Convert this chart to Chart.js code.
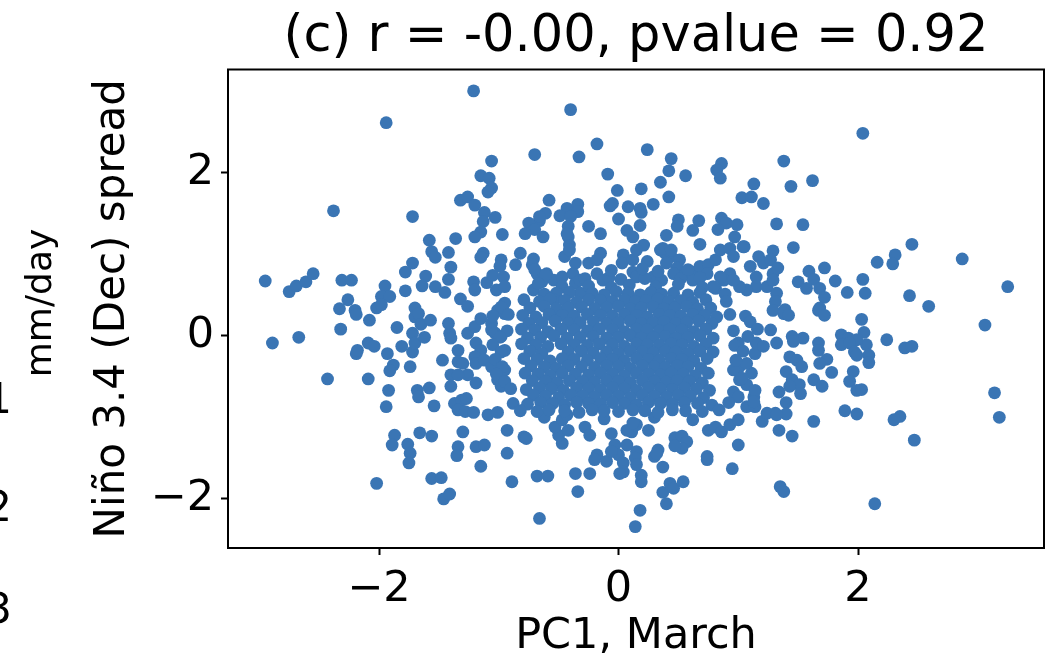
<!DOCTYPE html>
<html><head><meta charset="utf-8">
<script src="https://cdn.jsdelivr.net/npm/chart.js@4.4.1/dist/chart.umd.min.js"></script>
<style>html,body{margin:0;padding:0;background:#fff;overflow:hidden}canvas{display:block}</style>
</head><body>
<canvas id="c" width="1061" height="660"></canvas>
<script>
// ---- text ----
const titleText = '(c) r = -0.00, pvalue = 0.92';
const xLabel = 'PC1, March';
const yLabel = 'Niño 3.4 (Dec) spread';
const neighbourLabel = 'mm/day';
const neighbourTicks = ['1', '2', '3'];
const xTickValues = [-2, 0, 2];
const yTickValues = [-2, 0, 2];
const xRange = [-3.261, 3.553];
const yRange = [-2.602, 3.262];

// ---- data: [PC1 March, Nino3.4 Dec spread] ----
const upperLeft = [[-1.21,3.00],[-1.94,2.61],[-1.06,2.14],[-2.38,1.53],[-1.72,1.46],[-1.15,1.96],[-1.08,1.93],[-1.06,1.81],[-1.09,1.76],[-1.32,1.66],[-1.26,1.70],[-1.20,1.60],[-1.12,1.51],[-1.13,1.40],[-1.03,1.45],[-1.15,1.27],[-1.20,1.21],[-0.97,1.24],[-1.58,1.17],[-1.36,1.19],[-1.56,1.03],[-1.53,0.96],[-1.42,1.02],[-1.13,1.01],[-1.15,0.96],[-0.98,0.93],[-0.99,0.85],[-1.72,0.89],[-1.78,0.78],[-1.40,0.84],[-1.42,0.69],[-1.61,0.73],[-1.64,0.61],[-1.53,0.60],[-1.45,0.53],[-2.95,0.67],[-2.75,0.54],[-2.69,0.61],[-2.61,0.66],[-2.55,0.76],[-2.31,0.68],[-2.23,0.68],[-2.26,0.44],[-1.95,0.61],[-1.98,0.48],[-1.91,0.48],[-2.02,0.34],[-1.78,0.55],[-1.32,0.45],[-1.26,0.36],[-1.21,0.66],[-1.20,0.56],[-1.10,0.65],[-1.05,0.74],[-1.02,0.56],[-0.96,0.72],[-0.95,0.60],[-2.33,0.33],[-2.20,0.31],[-1.70,0.34],[-0.95,0.40]];
const lowerLeft = [[-2.89,-0.09],[-2.67,-0.02],[-2.43,-0.53],[-2.09,-0.53],[-2.32,0.08],[-2.19,0.26],[-2.08,0.19],[-1.98,0.38],[-2.19,-0.22],[-2.18,-0.18],[-2.09,-0.09],[-2.04,-0.13],[-1.93,-0.22],[-1.88,-0.36],[-1.91,-0.43],[-1.85,0.10],[-1.81,-0.13],[-1.74,-0.38],[-1.72,0.03],[-1.72,-0.20],[-1.70,-0.09],[-1.70,0.23],[-1.67,0.27],[-1.65,0.14],[-1.62,-0.02],[-1.57,0.19],[-1.92,-0.67],[-1.94,-0.87],[-1.68,-0.67],[-1.67,-0.75],[-1.58,-0.64],[-1.54,-0.86],[-1.87,-1.22],[-1.89,-1.34],[-1.76,-1.33],[-1.74,-1.44],[-1.75,-1.56],[-1.66,-1.19],[-1.56,-1.23],[-2.02,-1.81],[-1.56,-1.75],[-1.48,-1.74],[-1.46,-2.00],[-1.41,-1.94],[-1.30,-1.18],[-1.34,-1.36],[-1.35,-1.47],[-1.19,-1.36],[-1.12,-1.34],[-1.15,-1.60],[-1.42,0.15],[-1.41,0.03],[-1.40,-0.03],[-1.47,-0.30],[-1.34,-0.18],[-1.34,-0.32],[-1.30,-0.34],[-1.40,-0.48],[-1.40,-0.62],[-1.37,-0.83],[-1.31,-0.79],[-1.27,-0.77],[-1.34,-0.91],[-1.28,-0.93],[-1.21,-0.94],[-1.09,-0.97],[-1.01,-0.94],[-1.26,0.03],[-1.20,0.11],[-1.15,0.21],[-1.06,0.15],[-1.03,0.03],[-1.19,-0.09],[-1.15,-0.18],[-1.20,-0.26],[-1.19,-0.34],[-1.12,-0.30],[-1.19,-0.58],[-1.26,-0.48],[-1.34,-0.48],[-1.06,-0.38],[-1.01,-0.54],[-0.98,-0.62],[-0.95,-0.42],[-0.95,-0.18],[-0.98,-0.01],[-0.95,0.27],[-1.01,0.31],[-0.93,-1.16],[-0.93,-1.44],[-0.89,-1.79]];
const upperMiddle = [[-0.40,2.77],[-0.70,2.22],[-0.33,2.19],[-0.18,2.35],[0.24,2.28],[0.44,2.17],[0.42,2.02],[0.56,1.96],[-0.09,1.98],[-0.01,1.78],[0.19,1.80],[0.35,1.88],[0.42,1.70],[0.29,1.61],[0.86,2.11],[0.82,2.03],[0.85,1.93],[1.13,1.86],[1.03,1.69],[1.11,1.70],[1.21,1.62],[-0.58,1.66],[-0.43,1.56],[-0.34,1.61],[-0.34,1.52],[-0.49,1.47],[-0.40,1.46],[-0.61,1.50],[-0.66,1.41],[-0.75,1.38],[-0.70,1.30],[-0.63,1.21],[-0.78,1.25],[-0.07,1.59],[-0.05,1.62],[0.08,1.58],[0.18,1.56],[0.19,1.51],[0.00,1.43],[-0.25,1.34],[-0.42,1.34],[-0.42,1.21],[-0.41,1.11],[-0.45,0.97],[-0.15,1.25],[0.07,1.29],[0.12,1.21],[0.18,1.35],[0.40,1.23],[0.50,1.42],[0.49,1.34],[0.67,1.41],[0.62,1.29],[0.68,1.12],[0.86,1.44],[0.90,1.38],[0.83,1.30],[0.99,1.36],[0.97,1.21],[1.05,1.09],[1.32,1.37],[1.29,1.04],[-0.82,1.01],[-0.86,0.87],[-0.71,0.94],[-0.72,0.87],[-0.68,0.76],[-0.64,0.66],[-0.71,0.56],[-0.60,0.76],[-0.54,0.68],[-0.47,0.72],[-0.47,0.60],[-0.52,0.52],[-0.54,0.44],[-0.36,0.89],[-0.38,0.76],[-0.36,0.64],[-0.32,0.52],[-0.25,0.89],[-0.15,1.01],[-0.18,0.93],[0.04,0.99],[0.03,0.89],[0.12,0.93],[0.12,0.78],[0.21,1.11],[0.15,1.05],[0.24,0.91],[0.35,1.05],[0.39,1.01],[0.44,0.97],[0.51,0.93],[0.49,0.83],[0.56,0.76],[0.62,0.78],[0.68,0.85],[0.75,0.87],[0.81,0.93],[0.85,1.05],[0.93,1.07],[0.96,0.97],[1.04,1.09],[0.93,0.76],[0.88,0.68],[1.10,0.85],[1.17,0.97],[1.21,0.89],[1.27,0.93],[1.29,0.76],[1.15,0.60],[1.07,0.56],[1.24,0.60],[1.32,0.52],[-0.66,1.46],[-0.43,1.25],[-0.41,1.05],[0.37,1.07],[0.44,1.05],[1.15,0.72],[1.01,0.60],[0.96,0.68],[0.85,0.72],[0.81,0.58],[-0.70,0.81],[-0.61,0.74],[-0.67,0.64],[-0.32,0.68],[-0.18,0.76],[-0.13,0.68],[0.15,0.72],[0.29,0.72],[0.40,0.89],[0.46,0.76],[0.62,0.68],[0.74,0.76],[0.79,0.60]];
const upperRight = [[2.04,2.48],[1.38,2.14],[1.44,1.83],[1.62,1.90],[1.54,1.36],[1.46,1.08],[2.45,1.12],[2.87,0.94],[2.31,0.99],[2.29,0.88],[2.16,0.90],[1.72,0.83],[1.59,0.79],[1.63,0.69],[1.50,0.66],[1.57,0.58],[1.68,0.58],[1.72,0.47],[1.81,0.67],[2.04,0.69],[2.06,0.52],[1.91,0.53],[2.43,0.49],[2.59,0.36],[3.25,0.60],[1.33,0.83],[1.29,0.68],[1.31,0.42],[1.39,0.32],[1.68,0.34]];
const lowerRight = [[3.06,0.13],[3.14,-0.70],[3.18,-1.00],[2.47,-1.28],[2.35,-0.99],[2.30,-1.03],[2.24,-0.05],[2.39,-0.15],[2.45,-0.13],[2.14,-2.06],[1.35,-1.85],[1.38,-1.91],[2.03,0.20],[2.05,0.04],[2.07,-0.11],[2.09,-0.24],[2.09,-0.33],[1.86,0.01],[1.92,-0.03],[1.99,-0.05],[1.86,-0.11],[1.93,-0.09],[1.97,-0.20],[1.99,-0.24],[1.96,-0.44],[1.93,-0.56],[1.99,-0.67],[2.03,-0.66],[1.89,-0.92],[1.99,-0.96],[1.78,-0.45],[1.74,-0.29],[1.67,-0.09],[1.67,-0.18],[1.68,-0.34],[1.63,-0.54],[1.70,-0.62],[1.67,0.31],[1.72,0.25],[1.54,-0.03],[1.45,-0.01],[1.46,-0.07],[1.32,-0.09],[1.43,-0.26],[1.49,-0.30],[1.53,-0.38],[1.40,-0.44],[1.45,-0.54],[1.51,-0.60],[1.52,-0.71],[1.43,-0.62],[1.34,-0.69],[1.40,-0.82],[1.31,-0.95],[1.40,-0.96],[1.63,-1.05],[1.34,-1.16],[1.45,-1.23],[1.27,0.07],[1.29,0.31],[1.38,0.27],[1.42,0.25]];
const lowerMiddle = [[-0.66,-2.24],[0.14,-2.34],[0.18,-2.14],[-0.68,-1.72],[-0.59,-1.72],[-0.34,-1.91],[-0.36,-1.69],[-0.24,-1.69],[-0.79,-1.24],[-0.77,-1.26],[-0.47,-1.32],[-0.50,-1.22],[-0.53,-1.12],[-0.47,-1.03],[-0.43,-0.97],[-0.28,-1.12],[-0.24,-1.22],[-0.18,-1.46],[-0.20,-1.52],[-0.10,-1.54],[-0.06,-1.20],[-0.03,-1.34],[0.00,-1.46],[0.04,-1.56],[0.04,-1.67],[0.07,-1.34],[0.15,-1.42],[0.11,-1.18],[0.15,-1.09],[0.19,-1.71],[0.19,-1.79],[0.25,-1.16],[0.30,-1.48],[0.33,-1.40],[0.37,-1.61],[0.37,-1.92],[0.40,-2.06],[0.43,-1.81],[0.46,-1.87],[0.54,-1.79],[0.47,-1.25],[0.53,-1.23],[0.57,-1.30],[0.53,-1.38],[0.47,-1.35],[0.74,-1.48],[0.74,-1.52],[0.75,-1.16],[0.81,-1.12],[0.86,-1.18],[0.93,-1.09],[1.00,-1.03],[1.00,-1.34],[0.95,-1.63],[1.20,-1.05],[1.24,-0.95],[1.32,-0.97],[1.07,-0.87],[1.14,-0.87],[1.13,-0.75],[1.07,-0.60],[1.14,-0.67],[1.01,-0.54],[1.11,-0.46],[1.14,-0.22],[1.15,-0.09],[1.21,-0.13],[1.01,-0.38],[1.00,-0.09],[-0.42,-1.16],[-0.06,-1.42],[0.01,-1.69],[0.14,-1.50],[0.15,-1.58],[0.07,-1.16],[0.12,-1.07],[0.32,-1.44],[1.07,-0.34],[0.96,-0.42],[1.03,-0.52],[0.96,-0.69],[1.00,-0.75],[1.13,-0.81],[-0.62,-1.00],[-0.12,-1.02],[0.30,-1.00],[0.62,-1.03]];
const coreUpper = [[-0.28,0.70],[-0.08,0.71],[0.02,0.69],[0.22,0.70],[0.36,0.68],[0.52,0.70],[0.68,0.71],[-0.06,0.80],[0.20,0.82],[0.33,0.79],[0.58,0.81],
[-0.25,0.61],[-0.06,0.59],[0.09,0.62],[0.31,0.60],[0.50,0.63],[0.70,0.59],
[-0.62,0.51],[-0.41,0.53],[-0.22,0.52],[-0.12,0.50],[-0.02,0.54],[0.08,0.52],[0.18,0.50],[0.27,0.53],[0.36,0.51],[0.46,0.52],[0.58,0.50],[0.68,0.53],[0.89,0.51],
[-0.79,0.44],[-0.66,0.42],[-0.57,0.45],[-0.45,0.43],[-0.35,0.41],[-0.25,0.44],[-0.15,0.43],[-0.05,0.42],[0.05,0.44],[0.14,0.42],[0.23,0.43],[0.33,0.45],[0.42,0.42],[0.52,0.43],[0.62,0.41],[0.73,0.44],[0.90,0.42],
[-0.98,0.35],[-0.74,0.34],[-0.62,0.36],[-0.52,0.33],[-0.42,0.34],[-0.31,0.35],[-0.20,0.33],[-0.10,0.34],[0.00,0.36],[0.10,0.33],[0.19,0.34],[0.29,0.35],[0.38,0.33],[0.47,0.34],[0.57,0.36],[0.66,0.33],[0.77,0.34],
[-1.05,0.24],[-0.92,0.26],[-0.80,0.25],[-0.69,0.23],[-0.58,0.26],[-0.47,0.25],[-0.37,0.24],[-0.26,0.26],[-0.15,0.25],[-0.05,0.24],[0.05,0.26],[0.15,0.25],[0.24,0.23],[0.34,0.26],[0.43,0.25],[0.52,0.24],[0.62,0.26],[0.72,0.25],[0.82,0.23],[0.93,0.26],[1.06,0.24],
[-0.75,0.15],[-0.64,0.16],[-0.53,0.18],[-0.42,0.15],[-0.32,0.16],[-0.21,0.17],[-0.10,0.15],[0.00,0.16],[0.10,0.18],[0.19,0.15],[0.29,0.16],[0.38,0.17],[0.48,0.15],[0.57,0.16],[0.67,0.18],[0.78,0.15],[1.10,0.17],
[-1.06,0.07],[-0.93,0.06],[-0.81,0.08],[-0.70,0.07],[-0.59,0.05],[-0.48,0.08],[-0.37,0.07],[-0.26,0.06],[-0.16,0.08],[-0.05,0.07],[0.05,0.05],[0.15,0.08],[0.24,0.07],[0.34,0.06],[0.43,0.08],[0.53,0.07],[0.63,0.05],[0.73,0.08],[0.96,0.06],[1.16,0.08]];
const coreLower = [[-0.99,-0.02],[-0.76,-0.03],[-0.65,-0.02],[-0.54,0.00],[-0.43,-0.03],[-0.32,-0.02],[-0.21,-0.01],[-0.10,-0.03],[0.00,-0.02],[0.10,0.00],[0.19,-0.03],[0.29,-0.02],[0.39,-0.01],[0.48,-0.03],[0.58,-0.02],[0.68,0.00],[0.79,-0.03],[1.08,-0.01],
[-1.05,-0.11],[-0.81,-0.10],[-0.69,-0.11],[-0.59,-0.13],[-0.48,-0.10],[-0.37,-0.11],[-0.26,-0.12],[-0.16,-0.10],[-0.05,-0.11],[0.05,-0.13],[0.15,-0.10],[0.24,-0.11],[0.34,-0.12],[0.44,-0.10],[0.53,-0.11],[0.63,-0.13],[0.73,-0.10],[0.97,-0.12],
[-0.98,-0.20],[-0.74,-0.19],[-0.64,-0.22],[-0.42,-0.20],[-0.31,-0.19],[-0.21,-0.21],[-0.10,-0.20],[0.00,-0.22],[0.10,-0.19],[0.20,-0.20],[0.29,-0.21],[0.39,-0.19],[0.48,-0.20],[0.58,-0.22],[0.68,-0.19],[0.79,-0.20],[1.04,-0.19],
[-1.03,-0.29],[-0.79,-0.28],[-0.68,-0.29],[-0.57,-0.31],[-0.47,-0.28],[-0.37,-0.29],[-0.26,-0.30],[-0.15,-0.28],[-0.05,-0.29],[0.05,-0.31],[0.15,-0.28],[0.25,-0.29],[0.34,-0.30],[0.44,-0.28],[0.53,-0.29],[0.63,-0.31],[0.74,-0.28],[0.98,-0.30],
[-0.97,-0.38],[-0.73,-0.37],[-0.62,-0.38],[-0.52,-0.40],[-0.42,-0.37],[-0.31,-0.38],[-0.20,-0.39],[-0.10,-0.37],[0.00,-0.38],[0.10,-0.40],[0.20,-0.37],[0.30,-0.38],[0.39,-0.39],[0.49,-0.37],[0.58,-0.38],[0.69,-0.40],
[-1.02,-0.47],[-0.78,-0.46],[-0.67,-0.47],[-0.57,-0.49],[-0.47,-0.46],[-0.36,-0.47],[-0.25,-0.48],[-0.15,-0.46],[-0.05,-0.47],[0.05,-0.49],[0.15,-0.46],[0.25,-0.47],[0.35,-0.48],[0.44,-0.46],[0.54,-0.47],[0.64,-0.49],[0.75,-0.46],
[-0.95,-0.56],[-0.72,-0.55],[-0.61,-0.56],[-0.51,-0.58],[-0.41,-0.55],[-0.30,-0.56],[-0.20,-0.57],[-0.10,-0.55],[0.00,-0.56],[0.10,-0.58],[0.20,-0.55],[0.30,-0.56],[0.40,-0.57],[0.49,-0.55],[0.59,-0.56],[0.70,-0.58],
[-0.90,-0.65],[-0.77,-0.66],[-0.66,-0.64],[-0.56,-0.65],[-0.46,-0.67],[-0.35,-0.64],[-0.25,-0.65],[-0.15,-0.66],[-0.05,-0.64],[0.05,-0.65],[0.15,-0.67],[0.25,-0.64],[0.35,-0.65],[0.45,-0.66],[0.55,-0.64],[0.65,-0.65],[0.76,-0.67],
[-0.71,-0.73],[-0.61,-0.74],[-0.50,-0.76],[-0.40,-0.73],[-0.30,-0.74],[-0.20,-0.75],[-0.10,-0.73],[0.00,-0.74],[0.10,-0.76],[0.20,-0.73],[0.30,-0.74],[0.40,-0.75],[0.50,-0.73],[0.60,-0.74],[0.71,-0.76],
[-0.88,-0.83],[-0.76,-0.84],[-0.65,-0.82],[-0.55,-0.83],[-0.45,-0.85],[-0.35,-0.82],[-0.25,-0.83],[-0.15,-0.84],[-0.05,-0.82],[0.05,-0.83],[0.15,-0.85],[0.25,-0.82],[0.35,-0.83],[0.45,-0.84],[0.55,-0.82],[0.66,-0.83],[0.78,-0.85],[0.92,-0.82],
[-0.82,-0.92],[-0.68,-0.93],[-0.58,-0.91],[-0.45,-0.92],[-0.33,-0.94],[-0.22,-0.91],[-0.12,-0.92],[0.00,-0.93],[0.12,-0.91],[0.22,-0.92],[0.33,-0.94],[0.45,-0.91],[0.56,-0.92],[0.70,-0.93],[0.84,-0.91]];

const allPoints = [].concat(upperLeft, lowerLeft, upperMiddle, upperRight, lowerRight, lowerMiddle, coreUpper, coreLower)
  .map(([x, y]) => ({x, y}));

const FONT = 'DejaVu Sans';
const fmtTick = v => (v < 0 ? '\u2212' + Math.abs(v) : String(v));

const framePlugin = {
  id: 'frameAndExtras',
  afterDraw(chart) {
    const {ctx, chartArea: a} = chart;
    ctx.save();
    ctx.strokeStyle = '#000';
    ctx.lineWidth = 2;
    ctx.strokeRect(a.left, a.top, a.right - a.left, a.bottom - a.top);
    ctx.restore();
    // remnants of the neighbouring panel at the left edge
    ctx.save();
    ctx.fillStyle = '#000';
    ctx.font = '36px "' + FONT + '"';
    ctx.translate(51, 303);
    ctx.rotate(-Math.PI / 2);
    ctx.textAlign = 'center';
    ctx.textBaseline = 'alphabetic';
    ctx.fillText(neighbourLabel, 0, 0);
    ctx.restore();
    ctx.save();
    ctx.fillStyle = '#000';
    ctx.font = '42px "' + FONT + '"';
    ctx.textAlign = 'right';
    ctx.textBaseline = 'middle';
    const ys = [402, 510, 612];
    neighbourTicks.forEach((t, i) => ctx.fillText(t, 12, ys[i]));
    ctx.restore();
  }
};

new Chart(document.getElementById('c'), {
  type: 'scatter',
  data: {
    datasets: [{
      data: allPoints,
      backgroundColor: '#3a75b4',
      borderWidth: 0,
      pointRadius: 6.4,
      pointHoverRadius: 6.4
    }]
  },
  options: {
    responsive: false,
    animation: false,
    events: [],
    layout: {padding: {left: 0, right: 17, top: 0, bottom: 0}},
    plugins: {
      legend: {display: false},
      tooltip: {enabled: false},
      title: {
        display: true, text: titleText, fullSize: false, color: '#000',
        font: {family: FONT, size: 51, weight: 'normal', lineHeight: 1.2},
        padding: {top: 7, bottom: 1.3}
      }
    },
    scales: {
      x: {
        type: 'linear', min: xRange[0], max: xRange[1],
        afterFit: s => { s.height = 112; },
        afterBuildTicks: s => { s.ticks = xTickValues.map(v => ({value: v})); },
        ticks: {callback: fmtTick, color: '#000', font: {family: FONT, size: 43}, padding: 9.5, maxRotation: 0, autoSkip: false},
        grid: {drawOnChartArea: false, drawTicks: true, tickLength: 7, tickWidth: 2, tickColor: '#000'},
        border: {display: false},
        title: {display: true, text: xLabel, color: '#000', font: {family: FONT, size: 43, lineHeight: 1.1}, padding: {top: 0, bottom: 0}}
      },
      y: {
        type: 'linear', min: yRange[0], max: yRange[1],
        afterFit: s => { s.width = 228; },
        afterBuildTicks: s => { s.ticks = yTickValues.map(v => ({value: v})); },
        ticks: {callback: fmtTick, color: '#000', font: {family: FONT, size: 43}, padding: 7, autoSkip: false},
        grid: {drawOnChartArea: false, drawTicks: true, tickLength: 7, tickWidth: 2, tickColor: '#000'},
        border: {display: false},
        title: {display: true, text: yLabel, color: '#000', font: {family: FONT, size: 42, lineHeight: 1.2}, padding: {top: 88, bottom: 0}}
      }
    }
  },
  plugins: [framePlugin]
});
</script>
</body></html>
